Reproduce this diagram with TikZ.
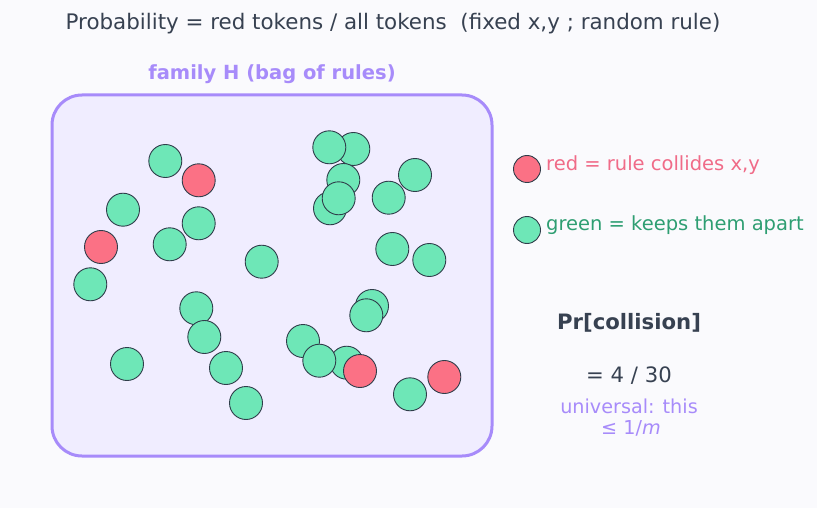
\documentclass[tikz,border=0pt]{standalone}
\usepackage{fontspec}
\setmainfont{DejaVu Sans}
\definecolor{bgc}{HTML}{FAFAFD}
\definecolor{boxfill}{HTML}{F0EDFF}
\definecolor{boxline}{HTML}{A78BFA}
\definecolor{tokgreen}{HTML}{6EE7B7}
\definecolor{tokred}{HTML}{FB7185}
\definecolor{tokline}{HTML}{2F3D4A}
\definecolor{titlec}{HTML}{374151}
\definecolor{redtxt}{HTML}{F06B88}
\definecolor{greentxt}{HTML}{2E9E72}
\definecolor{darktxt}{HTML}{374151}
\tikzset{
  tok/.style={circle, draw=tokline, line width=0.9pt, minimum size=33pt, inner sep=0pt},
  gtok/.style={tok, fill=tokgreen},
  rtok/.style={tok, fill=tokred},
  ltok/.style={tok, minimum size=27pt},
  lbl/.style={inner sep=0pt, anchor=center},
}
\begin{document}
\begin{tikzpicture}[x=1pt,y=-1pt]
\fill[bgc] (0,0) rectangle (817,508);
\useasboundingbox (0,0) rectangle (817,508);
\node[lbl, text=titlec, font=\fontsize{21.4}{25}\selectfont] (title) at (393,24) {Probability = red tokens / all tokens\ \ (fixed x,y ; random rule)};
\node[lbl, text=boxline, font=\fontsize{19.5}{23}\selectfont\bfseries] (famlbl) at (272,74) {family H (bag of rules)};
\draw[boxline, line width=3pt, fill=boxfill, rounded corners=30pt] (52,95) rectangle (492,456);
% tokens
\node[gtok] (t1) at (165.3,161) {};
\node[rtok] (t2) at (198.7,180.3) {};
\node[gtok] (t3) at (123,209.7) {};
\node[gtok] (t4) at (198.7,223.3) {};
\node[gtok] (t5) at (169.7,244.3) {};
\node[rtok] (t6) at (101,247) {};
\node[gtok] (t7) at (90.3,284.3) {};
\node[gtok] (t8) at (261.7,261.7) {};
\node[gtok] (t9) at (196.3,308.3) {};
\node[gtok] (t10) at (204.3,337) {};
\node[gtok] (t11) at (127,364) {};
\node[gtok] (t12) at (226,368) {};
\node[gtok] (t13) at (246,403) {};
\node[gtok] (t15) at (353.3,149) {};
\node[gtok] (t14) at (329.3,147.3) {};
\node[gtok] (t16) at (343.3,180) {};
\node[gtok] (t17) at (330,208.3) {};
\node[gtok] (t18) at (338.7,198.3) {};
\node[gtok] (t19) at (415,175) {};
\node[gtok] (t20) at (388.7,197.7) {};
\node[gtok] (t21) at (392.3,249) {};
\node[gtok] (t22) at (429.3,260) {};
\node[gtok] (t23) at (372,306) {};
\node[gtok] (t24) at (366.3,315.3) {};
\node[gtok] (t25) at (303,341) {};
\node[gtok] (t27) at (346.7,362.7) {};
\node[gtok] (t26) at (319.3,360.7) {};
\node[rtok] (t28) at (360,371) {};
\node[gtok] (t29) at (410,394.3) {};
\node[rtok] (t30) at (444.3,377) {};
% legend
\node[ltok, fill=tokred] (lr) at (527,169) {};
\node[lbl, anchor=west, text=redtxt, font=\fontsize{19.5}{23}\selectfont] (lrt) at (546,165) {red = rule collides x,y};
\node[ltok, fill=tokgreen] (lg) at (527,230) {};
\node[lbl, anchor=west, text=greentxt, font=\fontsize{19.5}{23}\selectfont] (lgt) at (546,225) {green = keeps them apart};
% probability
\node[lbl, text=darktxt, font=\fontsize{21.2}{25}\selectfont\bfseries] (pr) at (629,323) {Pr[collision]};
\node[lbl, text=darktxt, font=\fontsize{21.2}{25}\selectfont] (val) at (629,376) {= 4 / 30};
\node[lbl, text=boxline, font=\fontsize{19.2}{23}\selectfont] (univ) at (629,406) {universal: this};
\node[lbl, text=boxline, font=\fontsize{19.2}{23}\selectfont] (bound) at (631,428) {≤ 1/\textit{m}};
\end{tikzpicture}
\end{document}
